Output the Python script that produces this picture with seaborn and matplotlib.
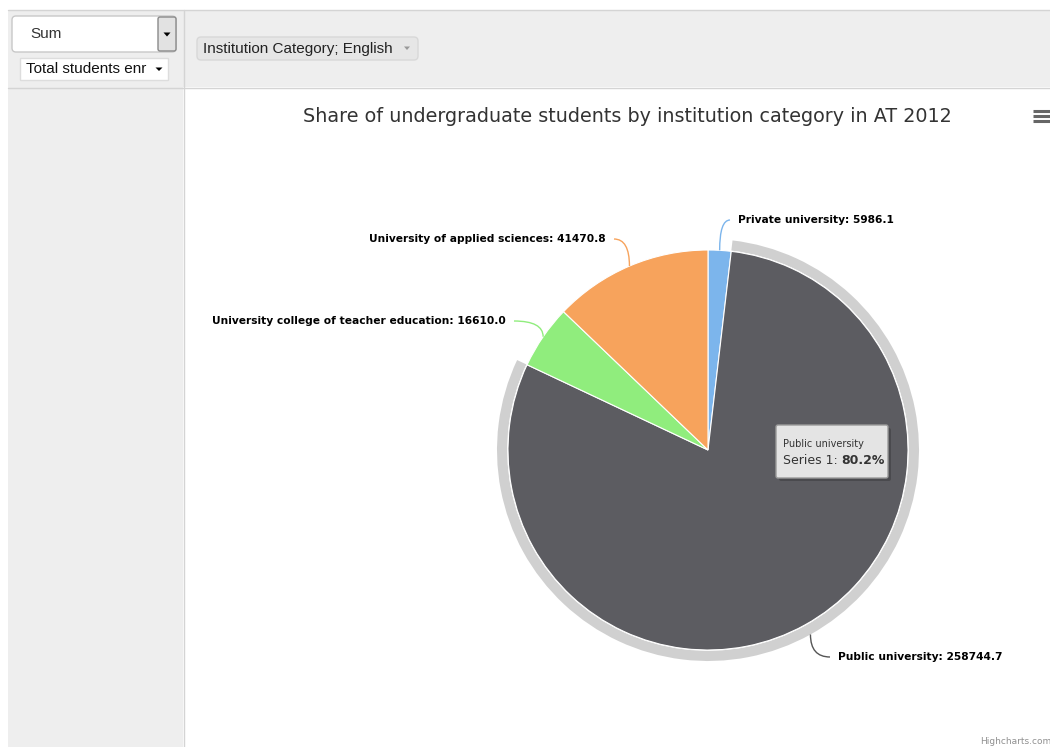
import matplotlib
matplotlib.use("Agg")
import matplotlib.pyplot as plt
import seaborn as sns
import numpy as np
from matplotlib.patches import Rectangle, FancyBboxPatch, Wedge, Polygon, PathPatch
from matplotlib.path import Path

# ---- data ----
categories = ["Private university", "Public university",
              "University college of teacher education",
              "University of applied sciences"]
values = [5986.1, 258744.7, 16610.0, 41470.8]
colors = ["#7cb5ec", "#5c5c61", "#90ed7d", "#f7a35c"]
title = "Share of undergraduate students by institution category in AT 2012"
hovered = "Public university"

sns.set_theme(style="white")
plt.rcParams["font.family"] = ["DejaVu Sans"]

W, H = 1050, 747
fig = plt.figure(figsize=(W / 100, H / 100), dpi=100)
fig.patch.set_facecolor("white")

# ---- page chrome (pixel coordinates) ----
bg = fig.add_axes([0, 0, 1, 1], zorder=0)
bg.set_xlim(0, W)
bg.set_ylim(H, 0)
bg.axis("off")

panel = "#eeeeee"
border = "#d4d4d4"
bg.add_patch(Rectangle((8, 10), W - 8, 77, fc=panel, ec="none"))
bg.add_patch(Rectangle((8, 87), 175, H - 87, fc=panel, ec="none"))
bg.plot([8, W], [9.5, 9.5], color=border, lw=1)
bg.plot([8, W], [87.5, 87.5], color=border, lw=1)
bg.plot([183.5, 183.5], [10, H], color=border, lw=1)

ui_font = ["Liberation Sans", "DejaVu Sans"]
# aggregator dropdown
bg.add_patch(FancyBboxPatch((12, 16), 164, 36, boxstyle="round,pad=0,rounding_size=4",
                            fc="white", ec="#c8c8c8", lw=1))
bg.add_patch(FancyBboxPatch((158, 17), 18, 34, boxstyle="round,pad=0,rounding_size=2",
                            fc="#e2e2e2", ec="#8a8a8a", lw=1))
bg.add_patch(Polygon([[163.5, 32.5], [170.5, 32.5], [167, 36.5]], closed=True, fc="black", ec="none"))
bg.text(30, 34, "Sum", fontsize=11, family=ui_font, color="#333333", va="center")
# value dropdown
bg.add_patch(Rectangle((20, 58), 148, 22, fc="white", ec="#dddddd", lw=1))
bg.text(26, 69, "Total students enr", fontsize=11, family=ui_font, color="#111111", va="center")
bg.add_patch(Polygon([[155.5, 67.5], [162.5, 67.5], [159, 71]], closed=True, fc="black", ec="none"))
# row attribute pill
bg.add_patch(FancyBboxPatch((197, 37), 221, 23, boxstyle="round,pad=0,rounding_size=4",
                            fc="#e6e6e6", ec="#d8d8d8", lw=1))
bg.text(203, 48.5, "Institution Category; English", fontsize=11, family=ui_font,
        color="#222222", va="center")
bg.add_patch(Polygon([[404, 46.5], [410, 46.5], [407, 50]], closed=True, fc="#999999", ec="none"))

# title, menu, credits
bg.text(627, 116, title, fontsize=13.8, color="#333333", ha="center", va="center")
for yy in (111, 116, 121):
    bg.plot([1033, 1050], [yy, yy], color="#666666", lw=2.2, solid_capstyle="butt")
bg.text(980, 741, "Highcharts.com", fontsize=6.5, color="#909090", va="center", ha="left")

# ---- pie ----
cx, cy, R = 708, 450, 200
half = 1.3
ax = fig.add_axes([(cx - half * R) / W, (H - cy - half * R) / H, 2 * half * R / W, 2 * half * R / H],
                  zorder=1)

wedges, _ = ax.pie(values, colors=colors, startangle=90, counterclock=False, radius=1.0,
                   wedgeprops=dict(edgecolor="white", linewidth=0.8))
ax.set_xlim(-half, half)
ax.set_ylim(-half, half)
ax.set_aspect("equal")
ax.axis("off")

total = sum(values)
hi = categories.index(hovered)
w = wedges[hi]
halo_r = 1.055
ax.add_patch(Wedge((0, 0), halo_r, w.theta1, w.theta2, width=halo_r - 1.004,
                   fc="#d0d0d0", ec="none", zorder=0))

# data labels: anchor position in px, alignment
label_pos = {
    "Private university": (738, 220, "left"),
    "Public university": (838, 657, "left"),
    "University college of teacher education": (506, 321, "right"),
    "University of applied sciences": (606, 239, "right"),
}

def to_data(px, py):
    return (px - cx) / R, (cy - py) / R

for name, val, col, wd in zip(categories, values, colors, wedges):
    lx, ly, ha = label_pos[name]
    tx, ty = to_data(lx, ly)
    ax.text(tx, ty, f"{name}: {val:.1f}", fontsize=7.7, fontweight="bold",
            color="black", ha=ha, va="center", zorder=5)
    mid = np.deg2rad((wd.theta1 + wd.theta2) / 2)
    r0 = halo_r if name == hovered else 1.0
    p0 = (r0 * np.cos(mid), r0 * np.sin(mid))
    sign = 1 if ha == "left" else -1
    p2 = (tx - sign * 8 / R, ty)
    p1 = (p0[0], ty)
    path = Path([p0, p1, p2], [Path.MOVETO, Path.CURVE3, Path.CURVE3])
    lc = "#555555" if name == hovered else col
    ax.add_patch(PathPatch(path, fc="none", ec=lc, lw=1, zorder=4))

# ---- tooltip ----
top = fig.add_axes([0, 0, 1, 1], zorder=2)
top.set_xlim(0, W)
top.set_ylim(H, 0)
top.axis("off")
top.patch.set_alpha(0)
top.add_patch(FancyBboxPatch((779, 428), 112, 53, boxstyle="round,pad=0,rounding_size=2",
                             fc="#3a3a3c", ec="none", alpha=0.5))
top.add_patch(FancyBboxPatch((776, 425), 112, 53, boxstyle="round,pad=0,rounding_size=2",
                             fc="#e4e4e4", ec="#9a9a9a", lw=1))
pct = values[hi] / total * 100
top.text(783, 444, hovered, fontsize=7, color="#333333", va="center")
t1 = top.text(783, 460, "Series 1: ", fontsize=9, color="#333333", va="center")
fig.canvas.draw()
bb = t1.get_window_extent().transformed(top.transData.inverted())
top.text(bb.x1, 460, f"{pct:.1f}%", fontsize=9, fontweight="bold", color="#333333", va="center")

fig.savefig("out.png", dpi=100)
